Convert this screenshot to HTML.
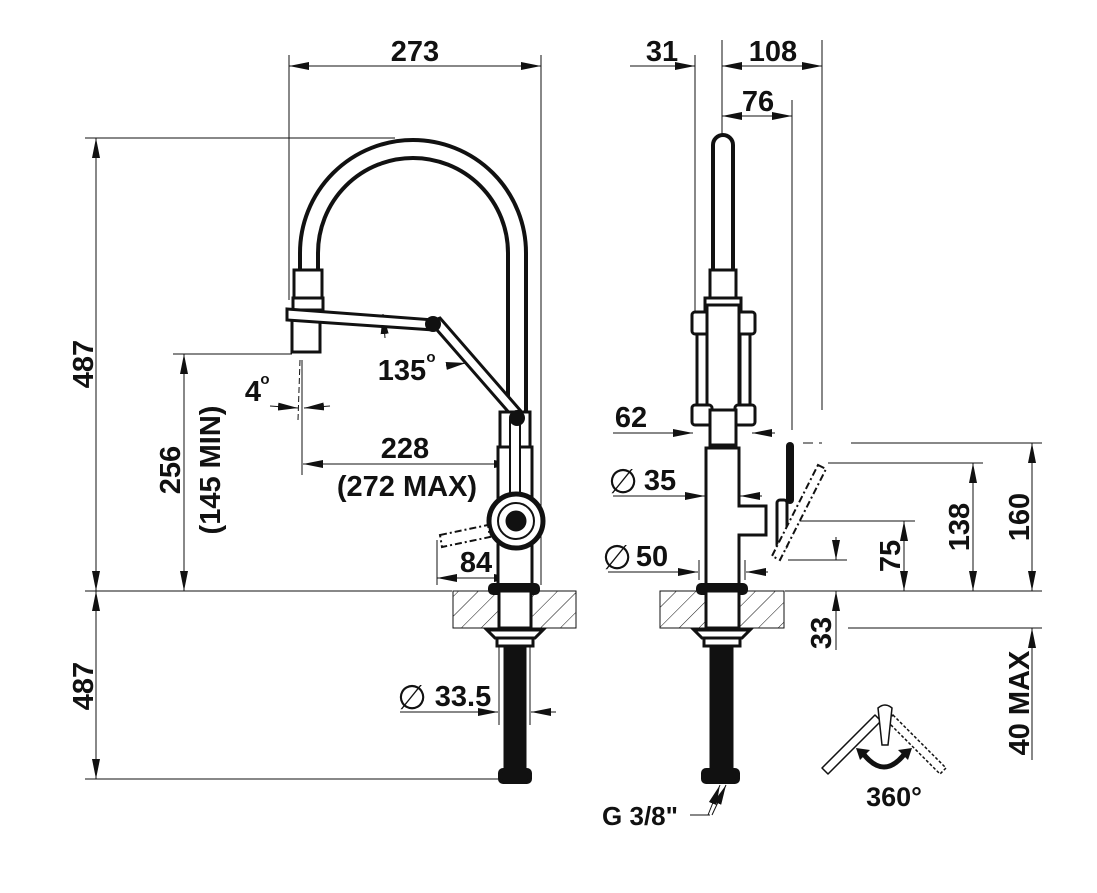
<!DOCTYPE html>
<html><head><meta charset="utf-8"><style>
html,body{margin:0;padding:0;background:#fff}
svg{display:block}
text{font-family:"Liberation Sans",Arial,sans-serif;font-weight:bold;fill:#111}
</style></head><body>
<svg width="1097" height="893" viewBox="0 0 1097 893" xmlns="http://www.w3.org/2000/svg">
<defs>
<marker id="a" viewBox="0 0 20 8" refX="20" refY="4" markerWidth="20" markerHeight="8" markerUnits="userSpaceOnUse" orient="auto-start-reverse"><path d="M0,0 L20,4 L0,8 z" fill="#111"/></marker>
<pattern id="h" width="14" height="14" patternUnits="userSpaceOnUse" patternTransform="rotate(45)"><line x1="0" y1="0" x2="0" y2="14" stroke="#111" stroke-width="1"/></pattern>
</defs>
<g stroke="#111" fill="none" stroke-width="1">
<line x1="289" y1="55" x2="289" y2="300"/>
<line x1="541" y1="55" x2="541" y2="585"/>
<line x1="289" y1="66" x2="541" y2="66" marker-start="url(#a)" marker-end="url(#a)"/>
<line x1="85" y1="138" x2="395" y2="138"/>
<line x1="85" y1="591" x2="452" y2="591"/>
<line x1="85" y1="779" x2="500" y2="779"/>
<line x1="96" y1="138" x2="96" y2="591" marker-start="url(#a)" marker-end="url(#a)"/>
<line x1="96" y1="591" x2="96" y2="779" marker-start="url(#a)" marker-end="url(#a)"/>
<line x1="173" y1="354" x2="292" y2="354"/>
<line x1="184" y1="354" x2="184" y2="591" marker-start="url(#a)" marker-end="url(#a)"/>
<line x1="302" y1="360" x2="302" y2="475"/>
<line x1="300" y1="360" x2="298" y2="420" stroke-dasharray="6,3"/>
<line x1="270" y1="406" x2="298" y2="408" marker-end="url(#a)"/>
<line x1="330" y1="406" x2="304" y2="408" marker-end="url(#a)"/>
<line x1="303" y1="464" x2="514" y2="464" marker-start="url(#a)" marker-end="url(#a)"/>
<line x1="437" y1="540" x2="437" y2="585"/>
<line x1="437" y1="578" x2="514" y2="578" marker-start="url(#a)" marker-end="url(#a)"/>
<line x1="515" y1="540" x2="515" y2="585"/>
<line x1="400" y1="712" x2="498" y2="712" marker-end="url(#a)"/>
<line x1="556" y1="712" x2="531" y2="712" marker-end="url(#a)"/>
<line x1="499" y1="640" x2="499" y2="725"/><line x1="530" y1="640" x2="530" y2="725"/>
<line x1="383" y1="314" x2="385" y2="338" marker-start="url(#a)"/>
<line x1="446" y1="366" x2="466" y2="363" marker-end="url(#a)"/>
<line x1="695" y1="55" x2="695" y2="315"/>
<line x1="722" y1="40" x2="722" y2="135"/>
<line x1="822" y1="40" x2="822" y2="410"/>
<line x1="792" y1="100" x2="792" y2="430"/>
<line x1="630" y1="66" x2="695" y2="66" marker-end="url(#a)"/>
<line x1="722" y1="66" x2="822" y2="66" marker-start="url(#a)" marker-end="url(#a)"/>
<line x1="722" y1="116" x2="792" y2="116" marker-start="url(#a)" marker-end="url(#a)"/>
<line x1="613" y1="433" x2="693" y2="433" marker-end="url(#a)"/>
<line x1="775" y1="433" x2="752" y2="433" marker-end="url(#a)"/>
<line x1="613" y1="496" x2="705" y2="496" marker-end="url(#a)"/>
<line x1="762" y1="496" x2="740" y2="496" marker-end="url(#a)"/>
<line x1="608" y1="572" x2="698" y2="572" marker-end="url(#a)"/>
<line x1="768" y1="572" x2="746" y2="572" marker-end="url(#a)"/>
<line x1="699" y1="560" x2="699" y2="580"/><line x1="745" y1="560" x2="745" y2="580"/>
<line x1="851" y1="443" x2="1042" y2="443"/>
<line x1="803" y1="443" x2="822" y2="443" stroke-dasharray="10,6"/>
<line x1="828" y1="463" x2="983" y2="463"/>
<line x1="790" y1="521" x2="915" y2="521"/>
<line x1="788" y1="560" x2="847" y2="560"/>
<line x1="785" y1="591" x2="1042" y2="591"/>
<line x1="848" y1="628" x2="1042" y2="628"/>
<line x1="1032" y1="443" x2="1032" y2="591" marker-start="url(#a)" marker-end="url(#a)"/>
<line x1="973" y1="463" x2="973" y2="591" marker-start="url(#a)" marker-end="url(#a)"/>
<line x1="904" y1="521" x2="904" y2="591" marker-start="url(#a)" marker-end="url(#a)"/>
<line x1="836" y1="537" x2="836" y2="560" marker-end="url(#a)"/>
<line x1="836" y1="650" x2="836" y2="591" marker-end="url(#a)"/>
<line x1="1032" y1="760" x2="1032" y2="628" marker-end="url(#a)"/>
<line x1="690" y1="815" x2="710" y2="815"/>
<line x1="708" y1="815" x2="720" y2="785" marker-end="url(#a)"/>
<line x1="712" y1="815" x2="726" y2="785" marker-end="url(#a)"/>
</g>
<g stroke="#111" stroke-width="4" fill="#fff">
<path d="M300,270 L300,253 A113,113 0 0 1 526,253 L526,415" fill="none"/>
<path d="M318,270 L318,253 A95,95 0 0 1 508,253 L508,415" fill="none"/>
<rect x="294" y="270" width="28" height="28" stroke-width="3"/>
<rect x="293" y="298" width="30" height="12" stroke-width="3"/>
<rect x="292" y="320" width="28" height="32" stroke-width="3"/>
<polygon points="287,309 434,320 434,330 287,320" stroke-width="3"/>
<polygon points="430,322 512,416 520,410 440,318" stroke-width="3"/>
<rect x="500" y="412" width="30" height="35" stroke-width="3"/>
<rect x="498" y="447" width="34" height="138" stroke-width="3"/>
<rect x="510" y="420" width="10" height="95" stroke-width="2"/>
<circle cx="516" cy="521" r="27" stroke-width="5"/>
<circle cx="516" cy="521" r="18" stroke-width="2"/>
<circle cx="516" cy="521" r="10" fill="#111" stroke-width="1"/>
<rect x="490" y="585" width="48" height="8" rx="3" fill="#111"/>
<rect x="500" y="591" width="30" height="40" stroke-width="3"/>
<path d="M487,630 L543,630 L535,638 L495,638 Z" stroke-width="3"/>
<rect x="497" y="638" width="36" height="8" stroke-width="3"/>
<rect x="504" y="646" width="22" height="124" fill="#111" stroke-width="1"/>
<rect x="500" y="770" width="30" height="12" rx="3" fill="#111"/>
</g>
<circle cx="433" cy="324" r="8" fill="#111"/>
<circle cx="517" cy="418" r="8" fill="#111"/>
<polygon points="440,535 488,525 490,537 442,547" fill="#fff" stroke="#111" stroke-width="2" stroke-dasharray="7,3,2,3"/>
<rect x="453" y="591" width="123" height="37" fill="url(#h)" stroke="#111" stroke-width="1"/>
<rect x="499" y="591" width="32" height="37" fill="#fff" stroke="#111" stroke-width="3"/>
<g stroke="#111" stroke-width="4" fill="#fff">
<path d="M713,270 L713,145 A10,10 0 0 1 733,145 L733,270" />
<rect x="710" y="270" width="26" height="28" stroke-width="3"/>
<rect x="705" y="298" width="36" height="12" stroke-width="3"/>
<rect x="692" y="312" width="20" height="22" rx="3" stroke-width="3"/>
<rect x="735" y="312" width="20" height="22" rx="3" stroke-width="3"/>
<rect x="697" y="334" width="10" height="80" stroke-width="3"/>
<rect x="740" y="334" width="10" height="80" stroke-width="3"/>
<rect x="707" y="305" width="32" height="110" stroke-width="3"/>
<rect x="692" y="405" width="20" height="20" rx="3" stroke-width="3"/>
<rect x="735" y="405" width="20" height="20" rx="3" stroke-width="3"/>
<rect x="710" y="410" width="26" height="35" stroke-width="3"/>
<path d="M706,585 L706,448 L739,448 L739,506 L766,506 L766,535 L739,535 L739,585 Z" stroke-width="3"/>
<rect x="698" y="585" width="48" height="8" rx="3" fill="#111"/>
<rect x="707" y="591" width="31" height="40" stroke-width="3"/>
<path d="M694,630 L750,630 L742,638 L702,638 Z" stroke-width="3"/>
<rect x="704" y="638" width="36" height="8" stroke-width="3"/>
<rect x="710" y="646" width="23" height="124" fill="#111" stroke-width="1"/>
<rect x="703" y="770" width="35" height="12" rx="3" fill="#111"/>
<rect x="777" y="500" width="10" height="48" rx="3" stroke-width="3"/>
</g>
<line x1="790" y1="446" x2="790" y2="500" stroke="#111" stroke-width="8" stroke-linecap="round"/>
<polygon points="818,465 826,469 780,560 772,556" fill="#fff" stroke="#111" stroke-width="2" stroke-dasharray="7,3,2,3"/>
<rect x="660" y="591" width="124" height="37" fill="url(#h)" stroke="#111" stroke-width="1"/>
<rect x="706" y="591" width="33" height="37" fill="#fff" stroke="#111" stroke-width="3"/>
<g stroke="#111" stroke-width="1.5" fill="#fff">
<path d="M822,768 L875,715 L881,721 L828,774 Z" stroke-linejoin="round"/>
<path d="M893,715 L946,768 L940,774 L887,721 Z" stroke-dasharray="3,2"/>
<path d="M878,708 Q885,702 892,708 L888,745 L882,745 Z"/>
</g>
<path d="M862,752 Q884,782 906,752" fill="none" stroke="#111" stroke-width="5"/>
<polygon points="856,748 870,750 860,760" fill="#111"/>
<polygon points="912,748 898,750 908,760" fill="#111"/>
<g font-size="29">
<text x="415" y="61" text-anchor="middle">273</text>
<text x="662" y="61" text-anchor="middle">31</text>
<text x="773" y="61" text-anchor="middle">108</text>
<text x="758" y="111" text-anchor="middle">76</text>
<text x="93" y="364" text-anchor="middle" transform="rotate(-90 93 364)">487</text>
<text x="93" y="686" text-anchor="middle" transform="rotate(-90 93 686)">487</text>
<text x="180" y="470" text-anchor="middle" transform="rotate(-90 180 470)">256</text>
<text x="220" y="470" text-anchor="middle" transform="rotate(-90 220 470)">(145 MIN)</text>
<text x="253" y="401" text-anchor="middle">4</text>
<text x="402" y="380" text-anchor="middle">135</text>
<text x="405" y="458" text-anchor="middle">228</text>
<text x="407" y="496" text-anchor="middle">(272 MAX)</text>
<text x="476" y="572" text-anchor="middle">84</text>
<text x="463" y="706" text-anchor="middle">33.5</text>
<text x="631" y="427" text-anchor="middle">62</text>
<text x="660" y="490" text-anchor="middle">35</text>
<text x="652" y="566" text-anchor="middle">50</text>
<text x="1029" y="517" text-anchor="middle" transform="rotate(-90 1029 517)">160</text>
<text x="969" y="527" text-anchor="middle" transform="rotate(-90 969 527)">138</text>
<text x="900" y="556" text-anchor="middle" transform="rotate(-90 900 556)">75</text>
<text x="831" y="633" text-anchor="middle" transform="rotate(-90 831 633)">33</text>
<text x="1029" y="703" text-anchor="middle" transform="rotate(-90 1029 703)">40 MAX</text>
</g>
<text x="265" y="384" font-size="15" text-anchor="middle" font-weight="normal">o</text>
<text x="431" y="362" font-size="15" text-anchor="middle" font-weight="normal">o</text>
<g font-size="34" font-weight="normal" style="font-weight:normal">
<text x="412" y="709" text-anchor="middle" style="font-weight:normal">∅</text>
<text x="623" y="493" text-anchor="middle" style="font-weight:normal">∅</text>
<text x="617" y="569" text-anchor="middle" style="font-weight:normal">∅</text>
</g>
<text x="640" y="825" font-size="26" text-anchor="middle">G 3/8"</text>
<text x="894" y="806" font-size="27" text-anchor="middle">360°</text>
</svg>
</body></html>
